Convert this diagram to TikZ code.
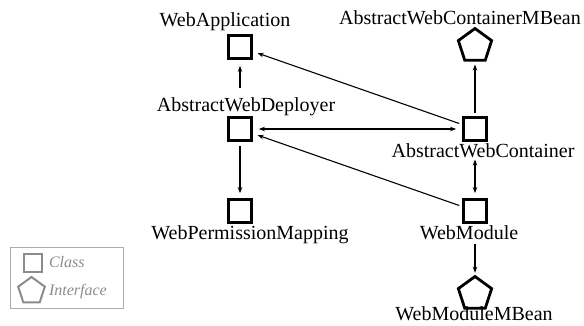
\documentclass[tikz,border=0pt]{standalone}
\usepackage{fontspec}
\setmainfont{Liberation Serif}
\usetikzlibrary{arrows.meta,shapes.geometric}

\begin{document}
\begin{tikzpicture}[x=1pt,y=-1pt,
  cls/.style={draw,line width=2.8pt,minimum size=23pt,inner sep=0pt},
  ifc/.style={draw,regular polygon,regular polygon sides=5,line width=2.8pt,minimum size=35pt,inner sep=0pt},
  lbl/.style={inner sep=0pt,anchor=base,font=\fontsize{20}{24}\selectfont},
  tip/.tip={Stealth[length=6pt,width=4.5pt]},
  thinarr/.style={-tip,line width=1.1pt},
  thickarr/.style={-tip,line width=2pt}]
\useasboundingbox (0,0) rectangle (584,326);

% left column
\node[cls] (wa) at (240,47) {};
\node[lbl] (waL) at (225,27) {WebApplication};
\node[cls] (adw) at (240,129) {};
\node[lbl] (adwL) at (246,112) {AbstractWebDeployer};
\node[cls] (wpm) at (240,211) {};
\node[lbl] (wpmL) at (250,239) {WebPermissionMapping};

% right column
\node[ifc] (mb) at (475,46) {};
\node[lbl] (mbL) at (460,25) {AbstractWebContainerMBean};
\node[cls] (awc) at (475,129) {};
\node[lbl] (awcL) at (483,158) {AbstractWebContainer};
\node[cls] (wm) at (475,211) {};
\node[lbl] (wmL) at (469,240) {WebModule};
\node[ifc] (wmb) at (475,294) {};
\node[lbl] (wmbL) at (474,320) {WebModuleMBean};

% connectors
\draw[thinarr,shorten <=10pt,shorten >=6pt] (adwL.north -| adw) -- (wa.south);
\draw[thinarr,shorten <=3pt,shorten >=5pt] (awc) -- (wa);
\draw[thinarr,tip-tip,shorten <=6pt,shorten >=6pt] (adw) -- (awc);
\draw[thinarr,shorten <=3pt,shorten >=5pt] (wm) -- (adw);
\draw[thickarr,shorten <=4pt,shorten >=5pt] (adw) -- (wpm);
\draw[thickarr,shorten <=3pt,shorten >=3pt] (awc) -- (mb);
\draw[thinarr,tip-tip,shorten <=1pt,shorten >=5pt] (awcL.south -| wm) -- (wm.north);
\draw[thickarr,shorten <=3pt,shorten >=2pt] (wmL.south -| wmb) -- (wmb.north);

% legend
\begin{scope}[gray!90,line width=2pt]
\node[draw=gray!65,line width=1pt,minimum width=113pt,minimum height=61pt,inner sep=0pt] (legend) at (66.5,277.5) {};
\node[draw,minimum size=18pt,inner sep=0pt] (legCls) at (33,263) {};
\node[draw,regular polygon,regular polygon sides=5,minimum size=28pt,inner sep=0pt] (legIfc) at (31.5,291) {};
\node[anchor=base west,inner sep=0pt,font=\fontsize{16}{19}\selectfont\itshape] (legClsL) at (48,267) {Class};
\node[anchor=base west,inner sep=0pt,font=\fontsize{16}{19}\selectfont\itshape] (legIfcL) at (48,295) {Interface};
\end{scope}
\end{tikzpicture}
\end{document}
